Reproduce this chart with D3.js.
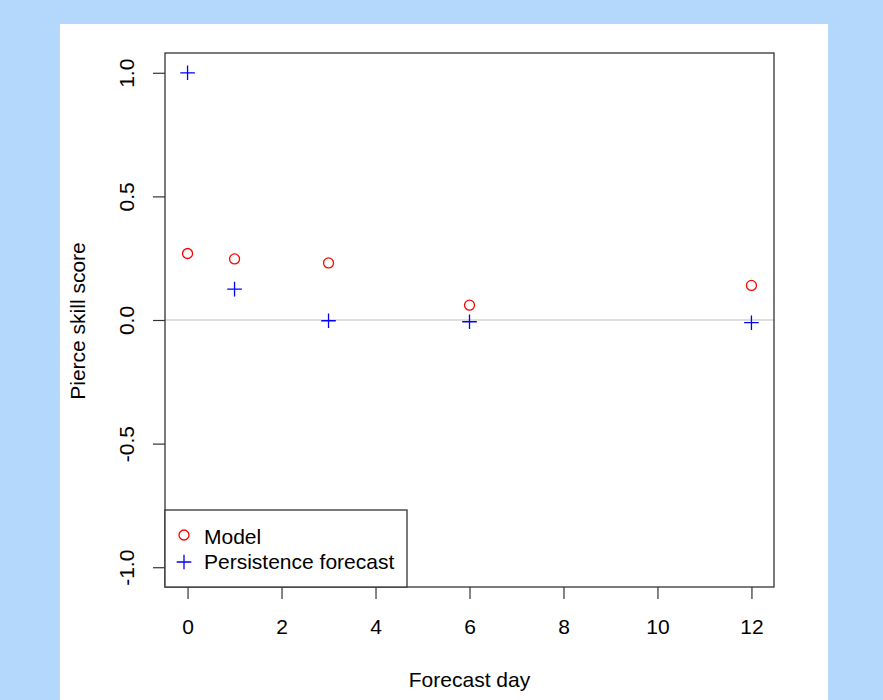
<!DOCTYPE html>
<html><head><meta charset="utf-8">
<script src="https://cdn.jsdelivr.net/npm/d3@7"></script>
<style>body{margin:0;background:#b4d8fc;} svg{display:block;}</style>
</head><body>
<script>
const days = [0, 1, 3, 6, 12];
const modelScores = [0.269, 0.247, 0.231, 0.06, 0.14];
const persistenceScores = [1.0, 0.125, -0.003, -0.007, -0.011];
const xTicks = [0, 2, 4, 6, 8, 10, 12];
const yTicks = [-1.0, -0.5, 0.0, 0.5, 1.0];
const seriesNames = ["Model", "Persistence forecast"];

const W = 883, H = 700;
const svg = d3.select("body").append("svg").attr("width", W).attr("height", H);
svg.append("rect").attr("width", W).attr("height", H).attr("fill", "#b4d8fc");
svg.append("rect").attr("x", 60).attr("y", 24).attr("width", 768).attr("height", 676).attr("fill", "#ffffff");

const L = 165, R = 774, T = 53, B = 587;
const x = d3.scaleLinear().domain([-0.48, 12.48]).range([L, R]);
const y = d3.scaleLinear().domain([-1.08, 1.08]).range([B, T]);
const font = "Liberation Sans, Arial, Helvetica, sans-serif";
const fs = 21;
const fmtY = d => d.toFixed(1);

// zero line
svg.append("line").attr("x1", L).attr("x2", R).attr("y1", y(0)).attr("y2", y(0))
  .attr("stroke", "#bebebe").attr("stroke-width", 1.2);

// x axis
const xa = svg.append("g").attr("transform", `translate(0,${B})`)
  .call(d3.axisBottom(x).tickValues(xTicks).tickSize(12).tickFormat(d3.format("d")));
xa.select(".domain").remove();
xa.selectAll("line").attr("stroke", "#333").attr("stroke-width", 1.2);
xa.selectAll("text").attr("y", 47).attr("dy", null)
  .attr("font-family", font).attr("font-size", fs).attr("fill", "#000");

// y axis
const ya = svg.append("g").attr("transform", `translate(${L},0)`)
  .call(d3.axisLeft(y).tickValues(yTicks).tickSize(12).tickFormat(fmtY));
ya.select(".domain").remove();
ya.selectAll("line").attr("stroke", "#333").attr("stroke-width", 1.2);
ya.selectAll("text").remove();
ya.selectAll(".tick").append("text")
  .attr("transform", "translate(-31,0) rotate(-90)")
  .attr("text-anchor", "middle")
  .attr("font-family", font).attr("font-size", fs).attr("fill", "#000")
  .text(d => fmtY(d));

// box
svg.append("rect").attr("x", L).attr("y", T).attr("width", R - L).attr("height", B - T)
  .attr("fill", "none").attr("stroke", "#333").attr("stroke-width", 1.3);

// titles
svg.append("text").attr("x", (L + R) / 2).attr("y", 687).attr("text-anchor", "middle")
  .attr("font-family", font).attr("font-size", fs).text("Forecast day");
svg.append("text").attr("transform", `translate(85,${(T + B) / 2 + 1}) rotate(-90)`).attr("text-anchor", "middle")
  .attr("font-family", font).attr("font-size", fs).text("Pierce skill score");

// points
const plusPath = s => `M${-s},0H${s}M0,${-s}V${s}`;
svg.selectAll("circle.model").data(days.map((d, i) => [d, modelScores[i]])).enter()
  .append("circle").attr("class", "model")
  .attr("cx", d => x(d[0])).attr("cy", d => y(d[1])).attr("r", 5)
  .attr("fill", "none").attr("stroke", "#ff0000").attr("stroke-width", 1.3);
svg.selectAll("path.pers").data(days.map((d, i) => [d, persistenceScores[i]])).enter()
  .append("path").attr("class", "pers")
  .attr("transform", d => `translate(${x(d[0])},${y(d[1])})`)
  .attr("d", plusPath(7.3)).attr("stroke", "#0000ff").attr("stroke-width", 1.3).attr("fill", "none");

// legend
const lg = svg.append("g");
lg.append("rect").attr("x", L).attr("y", 510).attr("width", 242).attr("height", B - 510)
  .attr("fill", "#fff").attr("stroke", "#333").attr("stroke-width", 1.3);
const rows = [544, 569];
lg.append("circle").attr("cx", 184).attr("cy", 535).attr("r", 5)
  .attr("fill", "none").attr("stroke", "#ff0000").attr("stroke-width", 1.3);
lg.append("path").attr("transform", `translate(184,562)`).attr("d", plusPath(7.3))
  .attr("stroke", "#0000ff").attr("stroke-width", 1.3);
seriesNames.forEach((n, i) => {
  lg.append("text").attr("x", 204).attr("y", rows[i])
    .attr("font-family", font).attr("font-size", fs).text(n);
});
</script>
</body></html>
